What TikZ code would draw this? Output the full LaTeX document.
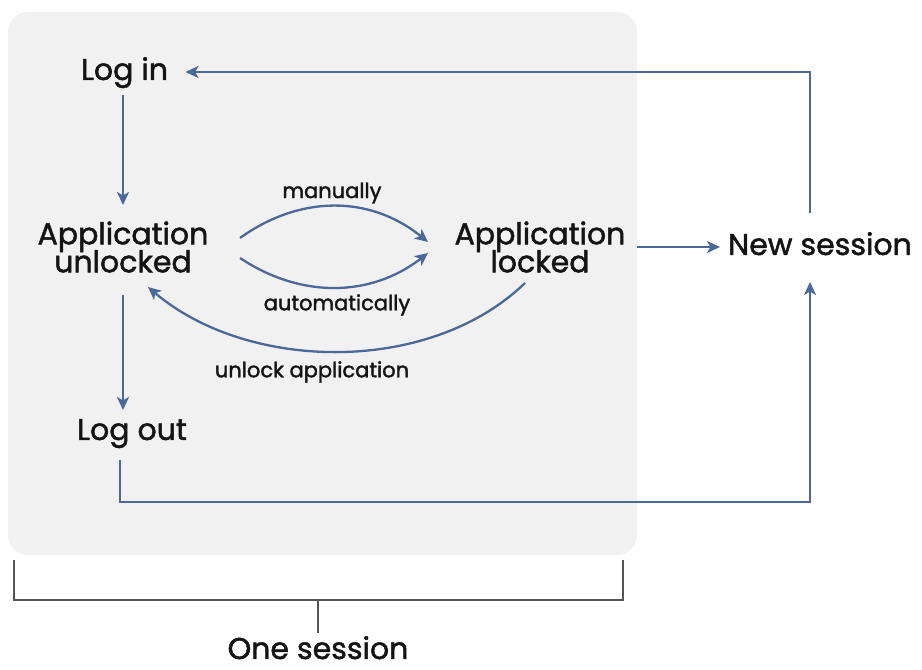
\documentclass[tikz,border=0pt]{standalone}
\usepackage{fontspec}
\setmainfont{Poppins}[FakeBold=1.6]
\usetikzlibrary{arrows.meta}
\definecolor{flowblue}{RGB}{74,104,154}
\definecolor{boxgray}{RGB}{241,241,241}
\definecolor{txt}{RGB}{20,20,20}
\definecolor{brgray}{RGB}{85,85,85}
\newcommand\mybigfont{\fontsize{30}{28}\selectfont\lineskiplimit=-30pt\relax}
\begin{document}
\begin{tikzpicture}[x=1pt,y=1pt,
  big/.style={font=\mybigfont, text=txt, align=center, inner sep=0pt},
  small/.style={font=\fontsize{21}{22}\selectfont, text=txt, inner sep=0pt},
  arr/.style={draw=flowblue, line width=2.3pt, -{Stealth[length=13pt,width=12pt,inset=3.5pt]}},
  brk/.style={draw=brgray, line width=1.6pt}]
\useasboundingbox (0,0) rectangle (922,670);
\fill[boxgray, rounded corners=20pt] (8,115) rectangle (637,658);

\node[big, anchor=base] (login) at (124.5,590) {Log in};
\node[big] (unl) at (123,423) {Application\\unlocked};
\node[big] (lock) at (540,423) {Application\\locked};
\node[big, anchor=base] (new) at (820,415) {New session};
\node[big, anchor=base] (logout) at (132,230) {Log out};
\node[big, anchor=base] (session) at (318,11) {One session};

\node[small] (lman) at (332,477) {manually};
\node[small] (lauto) at (337,365) {automatically};
\node[small] (lunl) at (312,298) {unlock application};

\draw[arr] ([xshift=-1.5pt,yshift=-15pt]login.base) -- ([yshift=42pt]unl.center);
\draw[arr] ([yshift=-48pt]unl.center) -- ([xshift=-9pt,yshift=30pt]logout.base);
\draw[arr] ([xshift=-12pt,yshift=-20pt]logout.base) -- ++(0,-42) -| ([xshift=-10pt,yshift=-27pt]new.base);
\draw[arr] ([xshift=-10pt,yshift=42pt]new.base) |- ([xshift=61pt,yshift=8pt]login.base);
\draw[arr] ([xshift=97pt]lock.center) -- ([xshift=-100pt,yshift=8pt]new.base);
\draw[arr] ([xshift=117pt,yshift=9pt]unl.center) .. controls +(60,43) and +(-58,47) .. ([xshift=-112pt,yshift=5pt]lock.center);
\draw[arr] ([xshift=117pt,yshift=-11pt]unl.center) .. controls +(60,-40) and +(-58,-45) .. ([xshift=-112pt,yshift=-6pt]lock.center);
\draw[arr] ([xshift=-15pt,yshift=-36pt]lock.center) .. controls +(-95,-92) and +(100,-85) .. ([xshift=25pt,yshift=-40pt]unl.center);

\coordinate (bl) at (14,110);
\coordinate (br) at (623,110);
\coordinate (bm) at (318,70);
\draw[brk] (bl) -- (14,70) -- (623,70) -- (br);
\draw[brk] (bm) -- ([yshift=3pt]session.north);
\end{tikzpicture}
\end{document}
